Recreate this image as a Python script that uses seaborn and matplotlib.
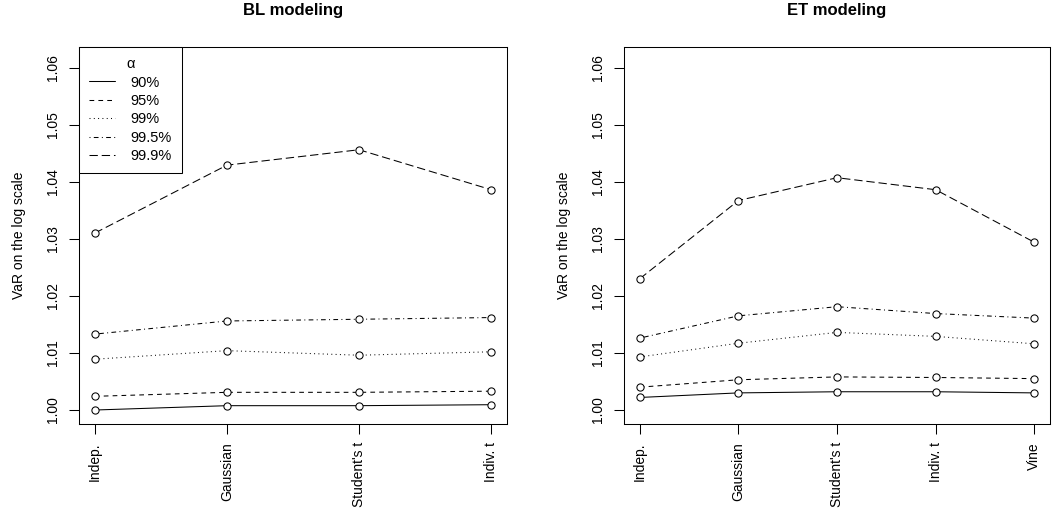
import pandas as pd
import seaborn as sns
import matplotlib.pyplot as plt
from matplotlib.lines import Line2D

# 데이터
bl_models = ["Indep.", "Gaussian", "Student's t", "Indiv. t"]
et_models = ["Indep.", "Gaussian", "Student's t", "Indiv. t", "Vine"]
levels = ["90%", "95%", "99%", "99.5%", "99.9%"]

bl_90 = [1.0000, 1.00076, 1.00076, 1.00093]
bl_95 = [1.0024, 1.0031, 1.0031, 1.0033]
bl_99 = [1.0089, 1.0104, 1.0096, 1.0102]
bl_995 = [1.0133, 1.0156, 1.0159, 1.0162]
bl_999 = [1.0310, 1.0429, 1.0456, 1.0386]

et_90 = [1.0022, 1.0030, 1.0032, 1.0032, 1.0030]
et_95 = [1.0040, 1.0053, 1.0058, 1.0057, 1.0055]
et_99 = [1.0093, 1.0117, 1.0136, 1.0129, 1.0116]
et_995 = [1.0126, 1.0165, 1.0181, 1.0169, 1.0161]
et_999 = [1.0230, 1.0367, 1.0407, 1.0386, 1.0294]

yticks = [1.00, 1.01, 1.02, 1.03, 1.04, 1.05, 1.06]

sns.set_style("ticks")
plt.rcParams['font.family'] = ['Liberation Sans', 'DejaVu Sans']
plt.rcParams['lines.scale_dashes'] = False
for k in ['text.color', 'axes.labelcolor', 'xtick.color', 'ytick.color', 'axes.edgecolor']:
    plt.rcParams[k] = 'black'

# R lty 1..5 비슷하게
dash_map = {
    "90%": "",
    "95%": (3.4, 3.0),
    "99%": (0.7, 2.4),
    "99.5%": (0.7, 2.4, 3.4, 2.4),
    "99.9%": (6.0, 2.8),
}


def to_long(models, series):
    rows = []
    for lev, vals in zip(levels, series):
        for i, (m, v) in enumerate(zip(models, vals)):
            rows.append({"pos": i + 1, "model": m, "alpha": lev, "var": v})
    return pd.DataFrame(rows)


bl_df = to_long(bl_models, [bl_90, bl_95, bl_99, bl_995, bl_999])
et_df = to_long(et_models, [et_90, et_95, et_99, et_995, et_999])

fig = plt.figure(figsize=(10.54, 5.13), dpi=100)
W, H = 1054, 513
ax1 = fig.add_axes([79 / W, (H - 424) / H, (507 - 79) / W, (424 - 47) / H])
ax2 = fig.add_axes([624 / W, (H - 424) / H, (1050 - 624) / W, (424 - 47) / H])

for ax, df, models, title in [(ax1, bl_df, bl_models, "BL modeling"),
                              (ax2, et_df, et_models, "ET modeling")]:
    sns.lineplot(data=df, x="pos", y="var", style="alpha", dashes=dash_map,
                 color="black", lw=0.75, marker="o", markersize=5.2,
                 markerfacecolor="white", markeredgecolor="black",
                 markeredgewidth=0.75, legend=False, ax=ax)
    n = len(models)
    ext = (n - 1) * 0.04
    ax.set_xlim(1 - ext, n + ext)
    ax.set_ylim(0.99755, 1.0636)
    ax.set_xticks(range(1, n + 1))
    ax.set_xticklabels(models, rotation=90, va="top")
    ax.set_yticks(yticks)
    ax.set_yticklabels([f"{t:.2f}" for t in yticks], rotation=90, va="center")
    ax.tick_params(axis="both", length=7, width=0.75, labelsize=10, color="black")
    ax.tick_params(axis="y", pad=7)
    ax.tick_params(axis="x", pad=6)
    for s in ax.spines.values():
        s.set_visible(True)
        s.set_linewidth(0.75)
        s.set_color("black")
    ax.set_xlabel("")
    ax.set_ylabel("VaR on the log scale", fontsize=10, labelpad=14)
    # 제목은 figure 위쪽에
    pos = ax.get_position()
    fig.text((pos.x0 + pos.x1) / 2, (H - 11) / H, title, ha="center", va="center",
             fontsize=12, fontweight="bold")

# 범례
handles = []
for l in levels:
    h = Line2D([], [], color="black", lw=0.75)
    if dash_map[l]:
        h.set_dashes(dash_map[l])
    handles.append(h)
leg = ax1.legend(handles, levels, title="α", loc="upper left", borderaxespad=0,
                 fancybox=False, edgecolor="black", framealpha=1, fontsize=10.5,
                 title_fontsize=10.5, handlelength=1.8, handletextpad=1.0,
                 labelspacing=0.3, borderpad=0.7)
leg.get_frame().set_linewidth(0.75)

plt.savefig("out.png", dpi=100)
plt.close()
